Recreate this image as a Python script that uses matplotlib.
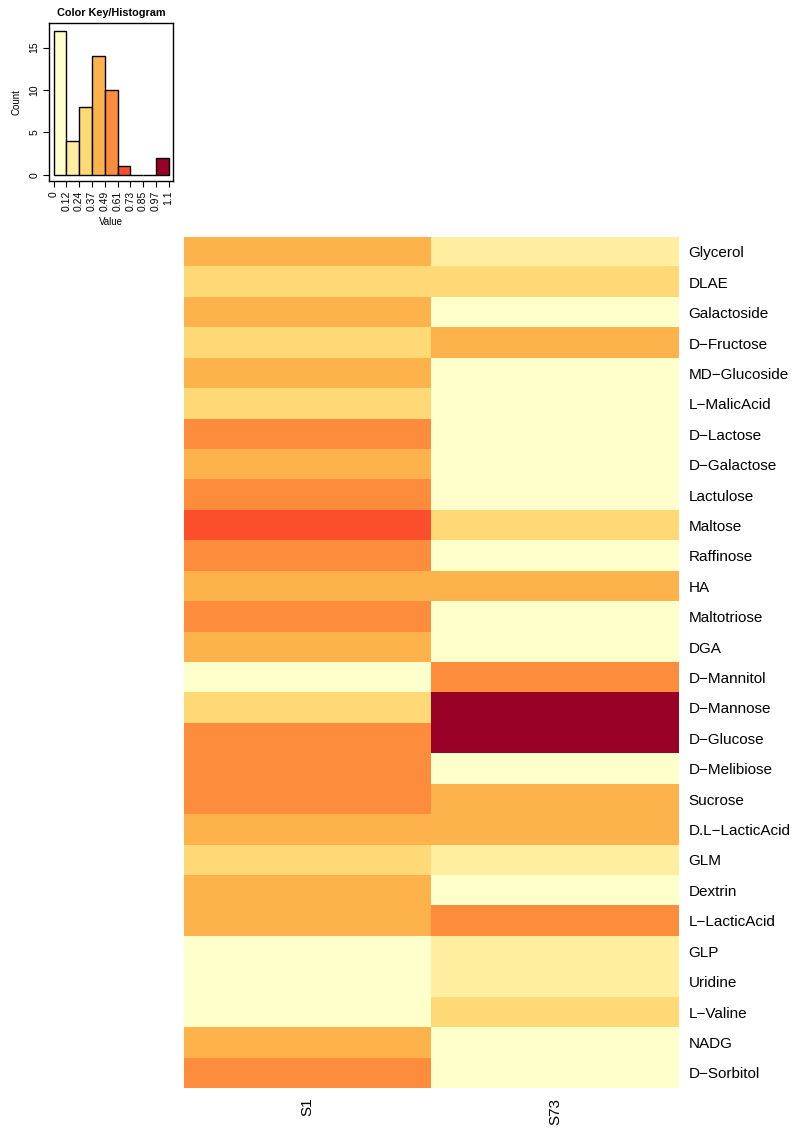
import numpy as np
import matplotlib
matplotlib.use("Agg")
import matplotlib.pyplot as plt
from matplotlib.colors import ListedColormap, BoundaryNorm

plt.rcParams['font.family'] = ['Liberation Sans', 'DejaVu Sans']

samples = ["S1", "S73"]
compounds = ["Glycerol", "DLAE", "Galactoside", "D-Fructose", "MD-Glucoside",
             "L-MalicAcid", "D-Lactose", "D-Galactose", "Lactulose", "Maltose",
             "Raffinose", "HA", "Maltotriose", "DGA", "D-Mannitol", "D-Mannose",
             "D-Glucose", "D-Melibiose", "Sucrose", "D.L-LacticAcid", "GLM",
             "Dextrin", "L-LacticAcid", "GLP", "Uridine", "L-Valine", "NADG",
             "D-Sorbitol"]
s1 = [0.43, 0.31, 0.44, 0.33, 0.41, 0.28, 0.55, 0.46, 0.52, 0.66,
      0.57, 0.40, 0.53, 0.45, 0.08, 0.32, 0.51, 0.54, 0.58, 0.47,
      0.27, 0.44, 0.43, 0.00, 0.02, 0.01, 0.41, 0.55]
s73 = [0.19, 0.29, 0.03, 0.45, 0.02, 0.05, 0.01, 0.04, 0.00, 0.30,
       0.06, 0.42, 0.03, 0.02, 0.56, 1.02, 1.096, 0.07, 0.39, 0.38,
       0.17, 0.04, 0.50, 0.20, 0.22, 0.26, 0.05, 0.06]
key_labels = ["0", "0.12", "0.24", "0.37", "0.49", "0.61", "0.73", "0.85", "0.97", "1.1"]
palette = ['#ffffcc', '#ffeda0', '#fed976', '#feb24c', '#fd8d3c',
           '#fc4e2a', '#e31a1c', '#bd0026', '#990026']

mat = np.column_stack([s1, s73])
breaks = np.linspace(0, mat.max(), len(palette) + 1)
cmap = ListedColormap(palette)
norm = BoundaryNorm(breaks, cmap.N)

fig = plt.figure(figsize=(7.98, 11.33), dpi=100)

# colour key / histogram
axh = fig.add_axes([0.0618, 0.8402, 0.1554, 0.1395])
n, b, patches = axh.hist(mat.ravel(), bins=breaks, edgecolor='black', linewidth=1.0)
for p, c in zip(patches, palette):
    p.set_facecolor(c)
axh.set_xlim(-0.04, 1.14)
axh.set_ylim(-0.72, 17.9)
axh.set_xticks(breaks)
axh.set_xticklabels(key_labels, rotation=90, fontsize=7.5)
axh.set_yticks([0, 5, 10, 15])
axh.set_yticklabels(["0", "5", "10", "15"], rotation=90, va='center', fontsize=7.5)
axh.tick_params(direction='out', length=4.5, width=0.8, pad=2.5)
axh.set_xlabel("Value", fontsize=7, labelpad=4)
axh.set_ylabel("Count", fontsize=7, labelpad=6)
axh.set_title("Color Key/Histogram", fontsize=7.8, fontweight='bold', pad=5)
for s in axh.spines.values():
    s.set_linewidth(1.0)

# heatmap
ax = fig.add_axes([0.2306, 0.0397, 0.6203, 0.7514])
ax.imshow(mat, cmap=cmap, norm=norm, aspect='auto', interpolation='nearest')
ax.set_xticks(range(len(samples)))
ax.set_xticklabels(samples, rotation=90, fontsize=11)
ax.set_yticks(range(len(compounds)))
ax.set_yticklabels([c.replace('-', '\u2212') for c in compounds], fontsize=11)
ax.yaxis.tick_right()
ax.tick_params(axis='both', length=0)
ax.tick_params(axis='y', pad=7)
ax.tick_params(axis='x', pad=7)
for s in ax.spines.values():
    s.set_visible(False)

fig.savefig("out.png", dpi=100)
